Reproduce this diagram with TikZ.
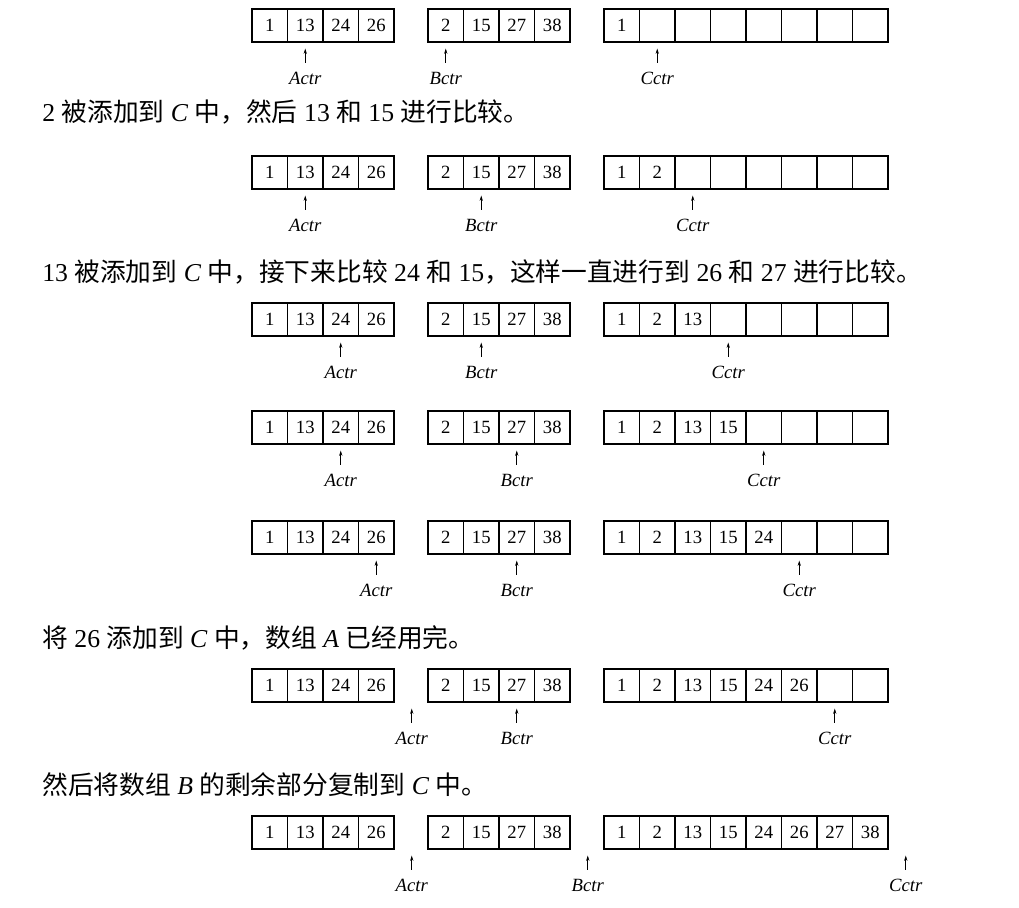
\documentclass[tikz,border=0pt]{standalone}
\usepackage{fontspec}
\setmainfont{Liberation Serif}
\newfontfamily\cjk{Noto Sans CJK SC}
\usepackage{tikz}
\usetikzlibrary{arrows.meta}

\tikzset{
  cell/.style={draw, line width=.8pt, minimum width=26.6pt, minimum height=24.75pt,
    inner sep=0pt, font=\fontsize{14}{16}\selectfont},
  ctr/.style={inner sep=1pt, font=\fontsize{14}{16}\selectfont\itshape},
  ptr/.style={-{Stealth[length=4pt,width=2.4pt]}, line width=.5pt,
    shorten <=5.5pt, shorten >=4.5pt},
  say/.style={anchor=west, inner sep=0pt, font=\fontsize{19.3}{22}\selectfont}
}

\newcommand{\zh}[1]{{\cjk #1}}

% one step of the merge: row, top edge, Actr, Bctr, Cctr
\newcommand{\mergestep}[5]{%
  \foreach \v [count=\i from 0] in {1,13,24,26}
    \node[cell] (A#1c\i) at (252+35.5*\i+17.75, #2+16.5) {\v};
  \foreach \v [count=\i from 0] in {2,15,27,38}
    \node[cell] (B#1c\i) at (428+35.5*\i+17.75, #2+16.5) {\v};
  \foreach \v [count=\i from 0] in {1,2,13,15,24,26,27,38}
    \node[cell] (C#1c\i) at (604+35.5*\i+17.75, #2+16.5) {\ifnum\i<#5 \v\fi};
  \node[ctr] (Actr#1) at (252+35.5*#3+17.75, #2+69) {Actr};
  \node[ctr] (Bctr#1) at (428+35.5*#4+17.75, #2+69) {Bctr};
  \node[ctr] (Cctr#1) at (604+35.5*#5+17.75, #2+69) {Cctr};
  \draw[ptr] (Actr#1) -- (Actr#1 |- A#1c0.south);
  \draw[ptr] (Bctr#1) -- (Bctr#1 |- B#1c0.south);
  \draw[ptr] (Cctr#1) -- (Cctr#1 |- C#1c0.south);
}

\begin{document}
\begin{tikzpicture}[x=0.75pt, y=-0.75pt]
\useasboundingbox (0,0) rectangle (1019,907);

  % arrays
\mergestep{1}{9}{1}{0}{1}
\mergestep{2}{156}{1}{1}{2}
\mergestep{3}{303}{2}{1}{3}
\mergestep{4}{411}{2}{2}{4}
\mergestep{5}{521}{3}{2}{5}
\mergestep{6}{669}{4}{2}{6}
\mergestep{7}{816}{4}{4}{8}

  % text
\node[say] (t1) at (42,112) {2 \zh{被添加到} \textit{C} \zh{中，然后} 13 \zh{和} 15 \zh{进行比较。}};
\node[say] (t2) at (42,272) {13 \zh{被添加到} \textit{C} \zh{中，接下来比较} 24 \zh{和} 15\zh{，这样一直进行到} 26 \zh{和} 27 \zh{进行比较。}};
\node[say] (t3) at (42,638) {\zh{将} 26 \zh{添加到} \textit{C} \zh{中，数组} \textit{A} \zh{已经用完。}};
\node[say] (t4) at (42,785) {\zh{然后将数组} \textit{B} \zh{的剩余部分复制到} \textit{C} \zh{中。}};

\end{tikzpicture}
\end{document}
